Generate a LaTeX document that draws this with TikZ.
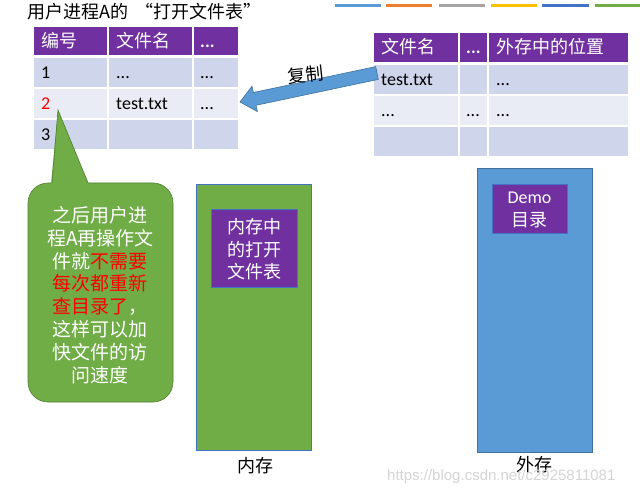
\documentclass[tikz,border=0pt]{standalone}
\usepackage{fontspec}
\setmainfont{Carlito}
\newfontfamily\cjk{Noto Sans CJK SC}
\newfontfamily\wmfont{Liberation Sans}
\definecolor{purp}{HTML}{7030A0}
\definecolor{rowA}{HTML}{CFD5EA}
\definecolor{rowB}{HTML}{E9EBF5}
\definecolor{gfill}{HTML}{70AD47}
\definecolor{gline}{HTML}{507E32}
\definecolor{bfill}{HTML}{5B9BD5}
\definecolor{bline}{HTML}{41719C}
\definecolor{memline}{HTML}{4472C4}
\definecolor{bar1}{HTML}{5B9BD5}
\definecolor{bar2}{HTML}{ED7D31}
\definecolor{bar3}{HTML}{A5A5A5}
\definecolor{bar4}{HTML}{FFC000}
\definecolor{bar5}{HTML}{4472C4}
\definecolor{bar6}{HTML}{70AD47}
\definecolor{wmgray}{HTML}{D4D4D4}
\tikzset{
  hdrcell/.style={fill=purp, draw=white, line width=1.2pt},
  acell/.style={fill=rowA, draw=white, line width=1.2pt},
  bcell/.style={fill=rowB, draw=white, line width=1.2pt},
  hdrtxt/.style={anchor=west, inner sep=0pt, text height=13pt, text depth=0pt, text=white, font=\cjk\fontsize{18}{22}\selectfont},
  celltxt/.style={anchor=west, inner sep=0pt, text height=12pt, text depth=0pt, text=black, font=\fontsize{18}{22}\selectfont},
  inbox/.style={fill=purp, draw=memline, line width=0.8pt},
  boxtxt/.style={align=center, inner sep=0pt, text=white, font=\cjk\fontsize{18}{22.5}\selectfont},
  undertxt/.style={inner sep=0pt, text=black, font=\cjk\fontsize{18}{22}\selectfont},
}
\begin{document}
\begin{tikzpicture}[x=1pt,y=-1pt]
\useasboundingbox (0,0) rectangle (640,494);
% colour bars
\fill[bar1] (335,4) rectangle (381,7.5);
\fill[bar2] (386,4) rectangle (432,7.5);
\fill[bar3] (439,4) rectangle (485,7.5);
\fill[bar4] (491,4) rectangle (537,7.5);
\fill[bar5] (542,4) rectangle (589,7.5);
\fill[bar6] (595,4) rectangle (640,7.5);
% title
\node[anchor=west, inner sep=0pt, font=\cjk\fontsize{18}{22}\selectfont] (title) at (27,12) {用户进程A的\hspace{7pt}“打开文件表”};
% left table
\path[hdrcell] (33,26) rectangle (108,56);
\path[hdrcell] (108,26) rectangle (193,56);
\path[hdrcell] (193,26) rectangle (239,56);
\path[acell] (33,57) rectangle (108,88);
\path[acell] (108,57) rectangle (193,88);
\path[acell] (193,57) rectangle (239,88);
\path[bcell] (33,88) rectangle (108,119);
\path[bcell] (108,88) rectangle (193,119);
\path[bcell] (193,88) rectangle (239,119);
\path[acell] (33,119) rectangle (108,150);
\path[acell] (108,119) rectangle (193,150);
\path[acell] (193,119) rectangle (239,150);
\node[hdrtxt] (lh1) at (41,41) {编号};
\node[hdrtxt, font=\bfseries\fontsize{18}{22}\selectfont] (lh3) at (200,41) {...};
\node[hdrtxt] (lh2) at (116,41) {文件名};
\node[celltxt] (l11) at (41,73) {1};
\node[celltxt] (l12) at (116,73) {...};
\node[celltxt] (l13) at (200,73) {...};
\node[celltxt, text=red] (l21) at (41,104) {2};
\node[celltxt] (l22) at (116,104) {test.txt};
\node[celltxt] (l23) at (200,104) {...};
\node[celltxt] (l31) at (41,135) {3};
% right table
\path[hdrcell] (373,32) rectangle (459,63);
\path[hdrcell] (459,32) rectangle (488,63);
\path[hdrcell] (488,32) rectangle (629,63);
\path[acell] (373,64) rectangle (459,95);
\path[acell] (459,64) rectangle (488,95);
\path[acell] (488,64) rectangle (629,95);
\path[bcell] (373,95) rectangle (459,126);
\path[bcell] (459,95) rectangle (488,126);
\path[bcell] (488,95) rectangle (629,126);
\path[acell] (373,126) rectangle (459,157);
\path[acell] (459,126) rectangle (488,157);
\path[acell] (488,126) rectangle (629,157);
\node[hdrtxt] (rh1) at (381,47) {文件名};
\node[hdrtxt, font=\bfseries\fontsize{18}{22}\selectfont] (rh2) at (466,47) {...};
\node[hdrtxt] (rh3) at (496,47) {外存中的位置};
\node[celltxt] (r11) at (381,80) {test.txt};
\node[celltxt] (r13) at (496,80) {...};
\node[celltxt] (r21) at (381,111) {...};
\node[celltxt] (r22) at (466,111) {...};
\node[celltxt] (r23) at (496,111) {...};
% copy arrow
\filldraw[fill=bfill, draw=bline, line width=0.6pt, line join=miter]
  (240,102) -- (252.0,86.2) -- (253.4,92.5) -- (375.7,66.6) -- (378.3,79.4)
  -- (256.0,105.3) -- (257.4,111.6) -- cycle;
\node[inner sep=0pt, rotate=6, font=\cjk\fontsize{18}{22}\selectfont] (copy) at (306,75) {复制};
% callout
\filldraw[fill=gfill, draw=gline, line width=0.6pt, rounded corners=20pt] (28,183) rectangle (173,402);
\fill[gfill] (51,184.5) -- (58,110) -- (89,184.5) -- cycle;
\draw[gline, line width=0.6pt] (52,183) -- (58,110) -- (88,183);
\node[align=center, inner sep=0pt, text=white, font=\cjk\fontsize{19}{22.8}\selectfont] (calltext) at (100.5,295)
  {之后用户进\\程A再操作文\\件就\textcolor{red}{不需要}\\\textcolor{red}{每次都重新}\\\textcolor{red}{查目录了}，\\这样可以加\\快文件的访\\问速度};
% memory
\filldraw[fill=gfill, draw=memline, line width=0.8pt] (196,184) rectangle (311,450);
\path[inbox] (211,209) rectangle (297,287);
\node[boxtxt] (memtab) at (254,249.5) {内存中\\的打开\\文件表};
\node[undertxt] (memlbl) at (255,466) {内存};
% external storage
\filldraw[fill=bfill, draw=bline, line width=0.8pt] (477,168) rectangle (592,452);
\path[inbox] (492,184) rectangle (567,233);
\node[boxtxt] (demo) at (529.5,210) {{\fontspec{Carlito}Demo}\\目录};
\node[undertxt] (extlbl) at (534,465) {外存};
% watermark
\node[anchor=west, inner sep=0pt, text=wmgray, font=\wmfont\fontsize{15}{18}\selectfont] (wm) at (387,477) {https://blog.csdn.net/c2925811081};
\end{tikzpicture}
\end{document}
